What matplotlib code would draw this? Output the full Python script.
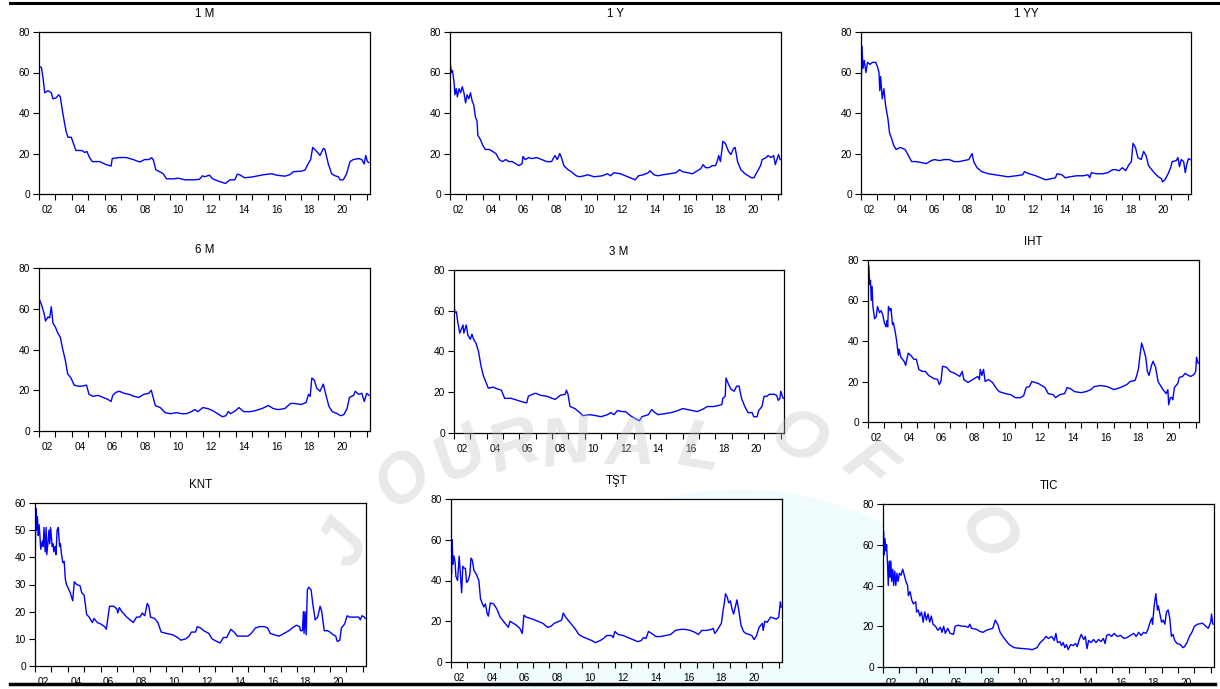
import numpy as np
import matplotlib.pyplot as plt
from matplotlib.lines import Line2D
from matplotlib.patches import Ellipse
from matplotlib.ticker import FixedLocator

plt.rcParams['font.family'] = ['Liberation Sans', 'DejaVu Sans']

# --- data (year, value) ---
t_1m = [2002.0, 2002.15, 2002.25, 2002.35, 2002.55, 2002.75, 2002.85, 2003.05, 2003.2, 2003.3,
        2003.45, 2003.65, 2003.77, 2003.97, 2004.25, 2004.6, 2004.8, 2004.93, 2005.05, 2005.25,
        2005.7, 2006.1, 2006.4, 2006.47, 2006.9, 2007.33, 2007.75, 2008.15, 2008.45, 2008.72,
        2008.87, 2008.97, 2009.13, 2009.37, 2009.58, 2009.78, 2010.2, 2010.5, 2010.9, 2011.4,
        2011.78, 2011.98, 2012.1, 2012.4, 2012.6, 2013.0, 2013.38, 2013.65, 2013.95, 2014.1,
        2014.25, 2014.55, 2015.07, 2015.68, 2016.2, 2016.5, 2017.0, 2017.3, 2017.52, 2018.03,
        2018.23, 2018.43, 2018.58, 2018.7, 2018.95, 2019.15, 2019.35, 2019.45, 2019.65, 2019.86,
        2020.06, 2020.27, 2020.37, 2020.57, 2020.77, 2020.98, 2021.18, 2021.5, 2021.7, 2021.84,
        2021.94, 2022.04, 2022.14]
v_1m = [63, 62.5, 57, 50, 51, 50, 47, 47.5, 49, 48,
        40, 31, 28, 28, 21.5, 21.5, 20.5, 21, 18.5, 16,
        16, 14.5, 13.8, 17.5, 18, 18, 17, 15.8, 17, 17,
        18, 17, 12, 11, 10, 7.5, 7.5, 7.8, 7, 7,
        7.2, 9, 8.5, 9.3, 7.5, 6.2, 5.2, 7, 7, 9.8,
        9.5, 8, 8.5, 9.5, 10, 9.3, 8.8, 9.5, 11, 11.3,
        11.8, 15, 17, 23, 21, 19, 22.5, 22, 15, 10,
        9, 8.5, 7, 7, 10, 16, 17, 17.5, 17, 14.8,
        19, 16, 15.5]

t_1y = [2002.0, 2002.05, 2002.1, 2002.15, 2002.25, 2002.3, 2002.38, 2002.45, 2002.55, 2002.65,
        2002.75, 2002.85, 2002.95, 2003.05, 2003.15, 2003.25, 2003.35, 2003.45, 2003.55, 2003.65,
        2003.7, 2003.85, 2004.0, 2004.15, 2004.4, 2004.6, 2004.8, 2005.0, 2005.2, 2005.4,
        2005.6, 2005.8, 2006.2, 2006.4, 2006.45, 2006.6, 2006.8, 2007.0, 2007.3, 2007.6,
        2007.9, 2008.2, 2008.4, 2008.55, 2008.7, 2008.8, 2008.95, 2009.2, 2009.4, 2009.7,
        2009.9, 2010.2, 2010.4, 2010.8, 2011.3, 2011.6, 2011.8, 2012.0, 2012.4, 2012.7,
        2013.0, 2013.3, 2013.5, 2013.8, 2014.1, 2014.2, 2014.45, 2014.7, 2015.0, 2015.4,
        2015.8, 2016.0, 2016.2, 2016.5, 2016.8, 2017.0, 2017.3, 2017.45, 2017.6, 2017.8,
        2018.0, 2018.2, 2018.3, 2018.4, 2018.5, 2018.6, 2018.65, 2018.8, 2019.0, 2019.15,
        2019.3, 2019.4, 2019.55, 2019.75, 2020.0, 2020.2, 2020.4, 2020.55, 2020.75, 2020.95,
        2021.05, 2021.3, 2021.4, 2021.6, 2021.75, 2021.85, 2021.95, 2022.05, 2022.15]
v_1y = [66, 62, 60, 61, 55, 49, 52, 48, 52, 50,
        53, 50, 45, 49, 47, 50, 46, 44, 38, 36,
        29, 27, 24, 22, 22, 21, 20, 17, 16, 17,
        16, 16, 14, 15, 18.5, 17, 18, 17.5, 18, 17,
        16, 16, 19, 17, 20, 18, 14, 12, 11, 9,
        8.5, 9, 9.5, 8.5, 9, 10, 9, 10.5, 10, 9,
        8, 7, 9, 9.5, 10.5, 11.5, 9.5, 9, 9.5, 10,
        10.5, 12, 11, 10.5, 10, 11, 12.5, 14.5, 13, 13,
        14, 14, 16, 19, 16, 22, 26, 25, 21, 19.5,
        22.5, 23, 16, 12, 10, 9, 8, 8, 11, 14,
        17, 18, 19, 18, 19, 14.5, 17, 19.5, 17]

t_1yy = [2002.0, 2002.02, 2002.06, 2002.12, 2002.2, 2002.3, 2002.4, 2002.55, 2002.7, 2002.9,
         2003.0, 2003.1, 2003.15, 2003.2, 2003.3, 2003.4, 2003.5, 2003.65, 2003.75, 2003.85,
         2004.0, 2004.15, 2004.4, 2004.7, 2004.9, 2005.1, 2005.4, 2005.7, 2006.0, 2006.3,
         2006.5, 2006.8, 2007.1, 2007.4, 2007.7, 2008.0, 2008.3, 2008.6, 2008.8, 2008.9,
         2009.1, 2009.4, 2009.8, 2010.2, 2010.6, 2011.0, 2011.5, 2011.9, 2012.0, 2012.3,
         2012.7, 2013.0, 2013.3, 2013.6, 2013.9, 2014.0, 2014.3, 2014.5, 2014.8, 2015.2,
         2015.6, 2015.9, 2016.0, 2016.1, 2016.4, 2016.8, 2017.1, 2017.4, 2017.6, 2017.8,
         2018.0, 2018.2, 2018.4, 2018.55, 2018.65, 2018.8, 2018.95, 2019.15, 2019.3, 2019.45,
         2019.6, 2019.8, 2020.0, 2020.2, 2020.4, 2020.45, 2020.6, 2020.8, 2020.95, 2021.05,
         2021.3, 2021.4, 2021.5, 2021.6, 2021.75, 2021.85, 2021.95, 2022.05, 2022.15]
v_1yy = [60, 56, 73, 62, 66, 60, 65, 64, 65, 65,
         63, 60, 51, 58, 47, 52, 44, 37, 30, 28,
         24, 22, 23, 22, 19, 16, 16, 15.5, 15, 16.5,
         17, 16.5, 17, 17, 16, 16, 16.5, 17, 20, 16,
         13, 11, 10, 9.5, 9, 8.5, 9, 9.5, 11, 10,
         9, 8, 7, 7.5, 8, 10, 9.5, 8, 8.5, 9,
         9, 9.5, 8, 10.5, 10, 10, 10.5, 12, 12, 11.5,
         13, 11.5, 14.5, 16, 25, 23, 18, 17, 21, 19,
         14, 12, 10, 8.5, 7.5, 6, 7, 10, 13, 16,
         16.5, 18, 13.5, 17, 16, 10.5, 15, 17.5, 17]

t_6m = [2002.0, 2002.15, 2002.3, 2002.4, 2002.55, 2002.65, 2002.75, 2002.85, 2003.0, 2003.15,
        2003.3, 2003.45, 2003.6, 2003.75, 2003.95, 2004.15, 2004.4, 2004.6, 2004.9, 2005.05,
        2005.3, 2005.6, 2005.9, 2006.2, 2006.4, 2006.5, 2006.7, 2006.9, 2007.2, 2007.5,
        2007.8, 2008.1, 2008.4, 2008.7, 2008.85, 2008.95, 2009.1, 2009.4, 2009.7, 2010.0,
        2010.4, 2010.7, 2011.0, 2011.3, 2011.5, 2011.7, 2012.0, 2012.3, 2012.6, 2012.9,
        2013.2, 2013.4, 2013.55, 2013.7, 2014.0, 2014.2, 2014.5, 2014.9, 2015.2, 2015.6,
        2016.0, 2016.3, 2016.6, 2017.0, 2017.35, 2017.6, 2018.0, 2018.3, 2018.45, 2018.55,
        2018.65, 2018.8, 2018.95, 2019.15, 2019.35, 2019.5, 2019.7, 2019.9, 2020.2, 2020.4,
        2020.6, 2020.8, 2020.95, 2021.2, 2021.3, 2021.5, 2021.7, 2021.85, 2022.0, 2022.15]
v_6m = [65, 62, 58, 54, 56, 55.5, 61, 53, 51, 48,
        46, 40, 35, 28, 26, 22.5, 22, 22, 22.5, 18,
        17, 17.5, 16.5, 15.5, 14.5, 17.5, 19, 19.5, 18.5, 18,
        17, 16.5, 18, 18.5, 20, 17, 12.5, 11.5, 9, 8.5,
        9, 8.5, 8.5, 9.5, 10.5, 9.5, 11.5, 11, 10, 8.5,
        7, 7.5, 9.5, 8.5, 10, 11.5, 9.5, 9.5, 10, 11,
        12.5, 11, 10.5, 11, 13.5, 13.5, 13, 14, 18, 17,
        26, 25, 21, 19.5, 23, 18, 12, 9.5, 8.5, 7.5,
        8, 11, 16.5, 17.5, 19.5, 18, 18.5, 14.5, 18.5, 17.5]

t_3m = [2002.0, 2002.05, 2002.15, 2002.2, 2002.35, 2002.45, 2002.55, 2002.6, 2002.75, 2002.85,
        2003.0, 2003.1, 2003.2, 2003.35, 2003.5, 2003.65, 2003.8, 2003.9, 2004.1, 2004.4,
        2004.7, 2004.9, 2005.1, 2005.5, 2005.9, 2006.3, 2006.45, 2006.55, 2006.8, 2007.0,
        2007.3, 2007.7, 2008.0, 2008.2, 2008.5, 2008.8, 2008.88, 2008.98, 2009.1, 2009.4,
        2009.7, 2009.9, 2010.3, 2010.7, 2011.0, 2011.4, 2011.6, 2011.8, 2012.0, 2012.3,
        2012.5, 2012.8, 2013.1, 2013.35, 2013.5, 2013.7, 2013.9, 2014.1, 2014.3, 2014.5,
        2014.9, 2015.3, 2015.7, 2016.0, 2016.3, 2016.6, 2016.9, 2017.3, 2017.5, 2017.9,
        2018.2, 2018.4, 2018.45, 2018.6, 2018.65, 2018.8, 2018.95, 2019.15, 2019.3, 2019.45,
        2019.6, 2019.8, 2020.0, 2020.25, 2020.35, 2020.55, 2020.65, 2020.85, 2020.98, 2021.15,
        2021.3, 2021.6, 2021.75, 2021.85, 2021.95, 2022.0, 2022.08, 2022.15]
v_3m = [64, 59, 59.5, 56, 49, 51, 53, 49, 53, 48,
        46, 48.5, 46, 44, 40, 33, 28, 26, 22, 22.5,
        21.5, 21, 17, 17, 16, 15, 14.8, 18, 19, 19.5,
        18.5, 18, 17, 16.5, 18.5, 19, 21, 19, 13, 12,
        10, 8.5, 9, 8.5, 8, 9, 10, 9, 11, 10.5,
        10.5, 8.5, 7, 6, 8, 8.5, 9, 11.5, 10, 9,
        9.5, 10, 11, 12, 11.5, 11, 10.5, 12, 13, 13,
        13.5, 14, 17, 18, 27, 24, 21.5, 20.5, 23, 23,
        17, 13, 10, 10, 8, 8, 11, 13, 18, 18,
        19, 19, 18.5, 16, 17, 20.5, 18.5, 17]

t_iht = [2002.0, 2002.05, 2002.1, 2002.15, 2002.2, 2002.25, 2002.3, 2002.4, 2002.5, 2002.58,
         2002.7, 2002.8, 2002.9, 2003.0, 2003.1, 2003.15, 2003.2, 2003.25, 2003.35, 2003.4,
         2003.5, 2003.55, 2003.65, 2003.75, 2003.85, 2003.9, 2004.0, 2004.1, 2004.2, 2004.3,
         2004.45, 2004.6, 2004.8, 2004.95, 2005.1, 2005.3, 2005.5, 2005.7, 2006.0, 2006.25,
         2006.35, 2006.45, 2006.55, 2006.8, 2007.0, 2007.3, 2007.6, 2007.75, 2007.85, 2008.1,
         2008.4, 2008.7, 2008.8, 2008.85, 2008.95, 2009.05, 2009.15, 2009.35, 2009.6, 2009.8,
         2010.0, 2010.4, 2010.7, 2011.0, 2011.3, 2011.5, 2011.65, 2011.85, 2012.0, 2012.4,
         2012.8, 2013.0, 2013.3, 2013.45, 2013.7, 2014.0, 2014.15, 2014.35, 2014.6, 2015.0,
         2015.3, 2015.6, 2015.8, 2016.2, 2016.6, 2017.0, 2017.4, 2017.8, 2018.0, 2018.3,
         2018.4, 2018.5, 2018.6, 2018.7, 2018.85, 2018.95, 2019.05, 2019.15, 2019.3, 2019.4,
         2019.55, 2019.7, 2019.85, 2020.0, 2020.2, 2020.3, 2020.35, 2020.45, 2020.55, 2020.6,
         2020.7, 2020.9, 2021.0, 2021.2, 2021.35, 2021.55, 2021.7, 2021.9, 2022.0, 2022.05,
         2022.15]
v_iht = [78, 77, 68, 70, 60, 67, 57, 51, 52, 57,
         54, 55, 53, 49, 47, 50, 47, 57, 55, 56,
         48, 49, 45, 40, 33, 36, 32, 31, 30, 28,
         34, 33, 31, 31, 26, 25, 25, 23, 21.5, 21,
         18.5, 20, 27.5, 27, 25, 24, 22.5, 25, 21, 19.5,
         21, 22.5, 21, 26, 23, 26, 20, 21, 19.5, 17,
         15, 14, 13.5, 12, 12, 13, 17, 17.5, 20, 19,
         17, 14, 13.5, 12, 13.5, 14, 17, 16.5, 15, 14.5,
         15, 16, 17.5, 18, 17.5, 16, 17, 18.5, 20, 20.5,
         23, 26, 33, 39, 35, 32, 25, 23, 28, 30,
         27, 20, 18, 16, 14, 16, 8.5, 12, 12, 11,
         17, 19, 22, 22.5, 24, 23, 22.5, 23.5, 25, 32,
         29]

t_knt = [2002.0, 2002.02, 2002.05, 2002.1, 2002.15, 2002.2, 2002.25, 2002.3, 2002.35, 2002.45,
         2002.5, 2002.55, 2002.62, 2002.68, 2002.72, 2002.8, 2002.85, 2002.9, 2002.95, 2003.05,
         2003.1, 2003.15, 2003.22, 2003.28, 2003.35, 2003.42, 2003.5, 2003.55, 2003.62, 2003.7,
         2003.78, 2003.85, 2003.92, 2004.0, 2004.15, 2004.3, 2004.4, 2004.55, 2004.75, 2004.85,
         2005.0, 2005.15, 2005.3, 2005.5, 2005.6, 2005.8, 2006.0, 2006.25, 2006.35, 2006.55,
         2006.8, 2007.0, 2007.05, 2007.15, 2007.3, 2007.6, 2007.8, 2008.0, 2008.2, 2008.4,
         2008.55, 2008.7, 2008.85, 2008.95, 2009.05, 2009.3, 2009.5, 2009.7, 2010.0, 2010.4,
         2010.7, 2010.9, 2011.2, 2011.4, 2011.55, 2011.8, 2011.9, 2012.1, 2012.3, 2012.6,
         2012.8, 2013.1, 2013.3, 2013.5, 2013.7, 2013.95, 2014.15, 2014.35, 2014.6, 2015.0,
         2015.2, 2015.45, 2015.7, 2016.0, 2016.2, 2016.35, 2016.6, 2016.9, 2017.2, 2017.5,
         2017.7, 2017.95, 2018.15, 2018.2, 2018.32, 2018.38, 2018.42, 2018.48, 2018.55, 2018.62,
         2018.7, 2018.85, 2018.95, 2019.1, 2019.25, 2019.4, 2019.5, 2019.65, 2019.85, 2020.0,
         2020.2, 2020.35, 2020.45, 2020.6, 2020.7, 2020.9, 2021.05, 2021.2, 2021.5, 2021.75,
         2021.85, 2021.95, 2022.1, 2022.15]
v_knt = [58, 43, 58, 50, 55, 48, 52, 48, 43, 46,
         44, 51, 42, 51, 41, 46, 50, 45, 51, 44,
         45, 42, 44, 41, 50, 51, 44, 45, 41, 38,
         38.5, 32, 30, 29, 27, 24, 31, 30, 29.5, 27,
         26, 19, 18, 16, 17.5, 16, 15.5, 14.5, 13.5, 22,
         22, 21, 19.5, 21.5, 20, 18, 17, 16, 18, 18,
         19.5, 18.5, 23, 22, 18, 17.5, 16, 12.5, 12, 11.5,
         10.5, 9.5, 10, 11, 12.5, 12.5, 14.5, 14, 13, 12,
         10, 9, 8.5, 10.5, 10.5, 13.5, 12.5, 11, 11, 11,
         12, 14, 14.5, 14.5, 14, 12, 11.5, 11, 12, 13,
         14, 15, 14.5, 13, 13, 20, 12, 20, 11.5, 28,
         29, 28, 23, 17, 18, 22, 20, 13, 13, 12.5,
         11.5, 11, 9, 9.5, 14, 15.5, 18.5, 18, 18, 18,
         17, 18.5, 18, 17.5]

t_tst = [2002.0, 2002.03, 2002.07, 2002.12, 2002.18, 2002.25, 2002.3, 2002.4, 2002.5, 2002.55,
         2002.65, 2002.72, 2002.8, 2002.88, 2002.95, 2003.05, 2003.15, 2003.22, 2003.3, 2003.4,
         2003.55, 2003.7, 2003.8, 2003.9, 2004.0, 2004.1, 2004.2, 2004.28, 2004.4, 2004.6,
         2004.8, 2005.0, 2005.2, 2005.4, 2005.5, 2005.6, 2005.8, 2006.0, 2006.2, 2006.35,
         2006.45, 2006.6, 2006.8, 2007.0, 2007.3, 2007.6, 2007.9, 2008.1, 2008.3, 2008.6,
         2008.75, 2008.85, 2009.0, 2009.2, 2009.4, 2009.6, 2009.8, 2010.0, 2010.3, 2010.6,
         2010.8, 2011.1, 2011.3, 2011.5, 2011.8, 2011.9, 2012.0, 2012.2, 2012.5, 2012.8,
         2013.1, 2013.4, 2013.6, 2013.75, 2013.9, 2014.05, 2014.25, 2014.5, 2014.8, 2015.1,
         2015.4, 2015.7, 2016.0, 2016.3, 2016.6, 2016.9, 2017.1, 2017.3, 2017.6, 2017.9,
         2018.0, 2018.1, 2018.2, 2018.35, 2018.5, 2018.6, 2018.7, 2018.75, 2018.85, 2018.95,
         2019.05, 2019.15, 2019.25, 2019.35, 2019.45, 2019.55, 2019.7, 2019.85, 2020.0, 2020.2,
         2020.35, 2020.5, 2020.65, 2020.8, 2021.0, 2021.05, 2021.15, 2021.3, 2021.5, 2021.7,
         2021.85, 2022.0, 2022.1, 2022.15]
v_tst = [61, 43, 60, 48, 52, 49, 42, 40, 52, 46,
         34, 47, 46, 46, 39, 40, 43, 51, 50, 45,
         43, 40, 31, 29, 27, 28.5, 24, 22.5, 29, 28.5,
         26, 22, 20, 18, 17, 20, 19, 18, 16.5, 14,
         23, 22, 21.5, 21, 20, 19, 17, 17.5, 19, 20,
         20.5, 24, 22, 20, 18, 16, 13.5, 12.5, 11.5, 10.5,
         9.5, 10.5, 11.5, 13, 13, 12, 15, 13.5, 13, 12,
         11, 10, 10.5, 12, 11.5, 15, 14, 12.5, 12.5, 13,
         13.5, 15.5, 16, 16, 15.5, 14.5, 13.5, 15.5, 15.5, 16,
         16.5, 14, 15, 17, 19, 25, 30, 33.5, 32, 29,
         30, 26, 23.5, 27, 30.5, 26, 18, 15, 14, 13.5,
         13, 11, 13, 17, 19, 15.5, 20, 19.5, 22, 21.5,
         21, 22, 29.5, 27]

t_tic = [2002.0, 2002.03, 2002.07, 2002.12, 2002.18, 2002.22, 2002.28, 2002.32, 2002.38, 2002.43,
         2002.48, 2002.53, 2002.6, 2002.65, 2002.72, 2002.78, 2002.85, 2002.92, 2003.0, 2003.1,
         2003.2, 2003.3, 2003.4, 2003.5, 2003.55, 2003.65, 2003.75, 2003.85, 2004.0, 2004.05,
         2004.15, 2004.25, 2004.35, 2004.45, 2004.55, 2004.65, 2004.75, 2004.85, 2004.95, 2005.05,
         2005.2, 2005.35, 2005.5, 2005.6, 2005.7, 2005.8, 2005.95, 2006.1, 2006.3, 2006.4,
         2006.6, 2006.8, 2007.0, 2007.2, 2007.3, 2007.4, 2007.7, 2007.9, 2008.1, 2008.3,
         2008.5, 2008.7, 2008.85, 2009.0, 2009.15, 2009.4, 2009.7, 2010.0, 2010.3, 2010.6,
         2010.9, 2011.1, 2011.4, 2011.6, 2011.8, 2011.95, 2012.1, 2012.3, 2012.45, 2012.55,
         2012.65, 2012.8, 2012.9, 2013.0, 2013.1, 2013.2, 2013.3, 2013.45, 2013.6, 2013.75,
         2013.85, 2014.0, 2014.1, 2014.25, 2014.35, 2014.45, 2014.55, 2014.7, 2014.85, 2015.0,
         2015.15, 2015.3, 2015.45, 2015.55, 2015.65, 2015.8, 2015.95, 2016.1, 2016.3, 2016.5,
         2016.7, 2016.9, 2017.1, 2017.3, 2017.45, 2017.6, 2017.75, 2017.9, 2018.05, 2018.15,
         2018.3, 2018.4, 2018.45, 2018.55, 2018.65, 2018.75, 2018.8, 2018.9, 2019.0, 2019.1,
         2019.2, 2019.3, 2019.4, 2019.5, 2019.6, 2019.7, 2019.8, 2019.95, 2020.15, 2020.3,
         2020.4, 2020.55, 2020.7, 2020.85, 2021.0, 2021.2, 2021.5, 2021.7, 2021.85, 2022.0,
         2022.05, 2022.12, 2022.15]
v_tic = [51, 67, 55, 63, 57, 60, 50, 40, 52, 44,
         52, 42, 48, 40, 47, 40, 46, 42, 46, 45,
         48, 45, 42, 40, 35, 37, 33, 31, 32, 27,
         28, 25, 27, 22, 27, 23, 26, 22, 25, 21,
         20, 18, 19.5, 17, 20, 16.5, 19, 16.5, 16, 20,
         20.5, 20, 20, 19.5, 21, 19, 18.5, 17.5, 17, 18,
         18.5, 19, 23, 21, 17, 14, 11, 9.5, 9.2, 9,
         8.8, 8.5, 9.5, 12, 13.5, 15, 14, 15, 13, 16.5,
         12, 12.5, 10.5, 12, 9.5, 11, 8.5, 11, 10.5, 11.5,
         10, 14, 16, 13.5, 15, 9, 13, 12, 13.5, 12,
         13.5, 12.5, 14, 11.5, 15.5, 16, 15, 16.5, 15, 15.5,
         14, 14.5, 15.5, 16.5, 15, 17, 15.5, 17, 16.5, 18,
         22, 24, 21, 30, 36, 28, 30, 26, 22, 23,
         21, 27, 28, 24, 15, 16, 13, 11.5, 11, 9.5,
         10, 12, 15, 17, 20, 21, 21.5, 20, 19, 22,
         26, 21.5, 21]

titles = ["1 M", "1 Y", "1 YY", "6 M", "3 M", "IHT", "KNT", "TŞT", "TIC"]
series_t = [t_1m, t_1y, t_1yy, t_6m, t_3m, t_iht, t_knt, t_tst, t_tic]
series_v = [v_1m, v_1y, v_1yy, v_6m, v_3m, v_iht, v_knt, v_tst, v_tic]
y_tops = [80, 80, 80, 80, 80, 80, 60, 80, 80]
y_steps = [20, 20, 20, 20, 20, 20, 10, 20, 20]

# axes boxes in pixels (left, right, top, bottom)
W, H = 1220, 689
boxes = [(39, 370, 32, 194), (450, 781, 32, 194), (861, 1191, 32, 194),
         (39, 370, 268, 431), (454, 784, 270, 433), (868, 1199, 260, 422),
         (35, 366, 503, 666), (451, 782, 499, 662), (883, 1214, 504, 667)]

fig = plt.figure(figsize=(W / 100, H / 100), dpi=100)

# faint cyan glow behind the bottom panels
fig.add_artist(Ellipse((740 / W, 1 - 700 / H), 520 / W, 420 / H,
                       transform=fig.transFigure, color='#f0fcfe', zorder=-5))

year_ticks = np.arange(2002, 2023)
label_pos = np.arange(2002, 2021, 2) + 0.5
label_txt = ["%02d" % (y % 100) for y in range(2002, 2021, 2)]

for i in range(9):
    l, r, t, b = boxes[i]
    ax = fig.add_axes([l / W, 1 - b / H, (r - l) / W, (b - t) / H])
    ax.plot(series_t[i], series_v[i], color='#0000ff', lw=1.0)
    ax.set_xlim(2002.0, 2022.2)
    ax.set_ylim(0, y_tops[i])
    ax.set_yticks(np.arange(0, y_tops[i] + 1, y_steps[i]))
    ax.set_xticks(label_pos)
    ax.set_xticklabels(label_txt)
    ax.xaxis.set_minor_locator(FixedLocator(year_ticks))
    ax.tick_params(axis='x', which='major', length=0, pad=8, labelsize=7.3)
    ax.tick_params(axis='x', which='minor', length=4.5, width=0.8, direction='out')
    ax.tick_params(axis='y', length=4, width=0.8, pad=2.5, labelsize=7.3)
    for s in ax.spines.values():
        s.set_linewidth(0.9)
    ax.set_title(titles[i], fontsize=8.3, pad=11)

# faint watermark letters along a flat arc between the rows
wm_letters = ["J", "O", "U", "R", "N", "A", "L", "O", "F", "O"]
wm_x = [345, 405, 460, 514, 566, 630, 700, 797, 868, 985]
wm_y = [545, 480, 455, 448, 446, 446, 450, 440, 468, 535]
wm_rot = [60, 45, 30, 18, 8, 0, -10, -30, -40, -55]
for ch, x, y, rot in zip(wm_letters, wm_x, wm_y, wm_rot):
    fig.text(x / W, 1 - y / H, ch, fontsize=50, fontweight='bold', style='italic',
             color='#c0c0c0', alpha=0.35, rotation=rot, ha='center', va='center', zorder=20)

# black rules at top and bottom
fig.add_artist(Line2D([10 / W, 1], [1 - 3 / H, 1 - 3 / H], transform=fig.transFigure,
                      color='black', lw=2.2, zorder=30))
fig.add_artist(Line2D([10 / W, 1215 / W], [1 - 684 / H, 1 - 684 / H], transform=fig.transFigure,
                      color='black', lw=2.5, zorder=30))

fig.savefig("out.png", dpi=100)
